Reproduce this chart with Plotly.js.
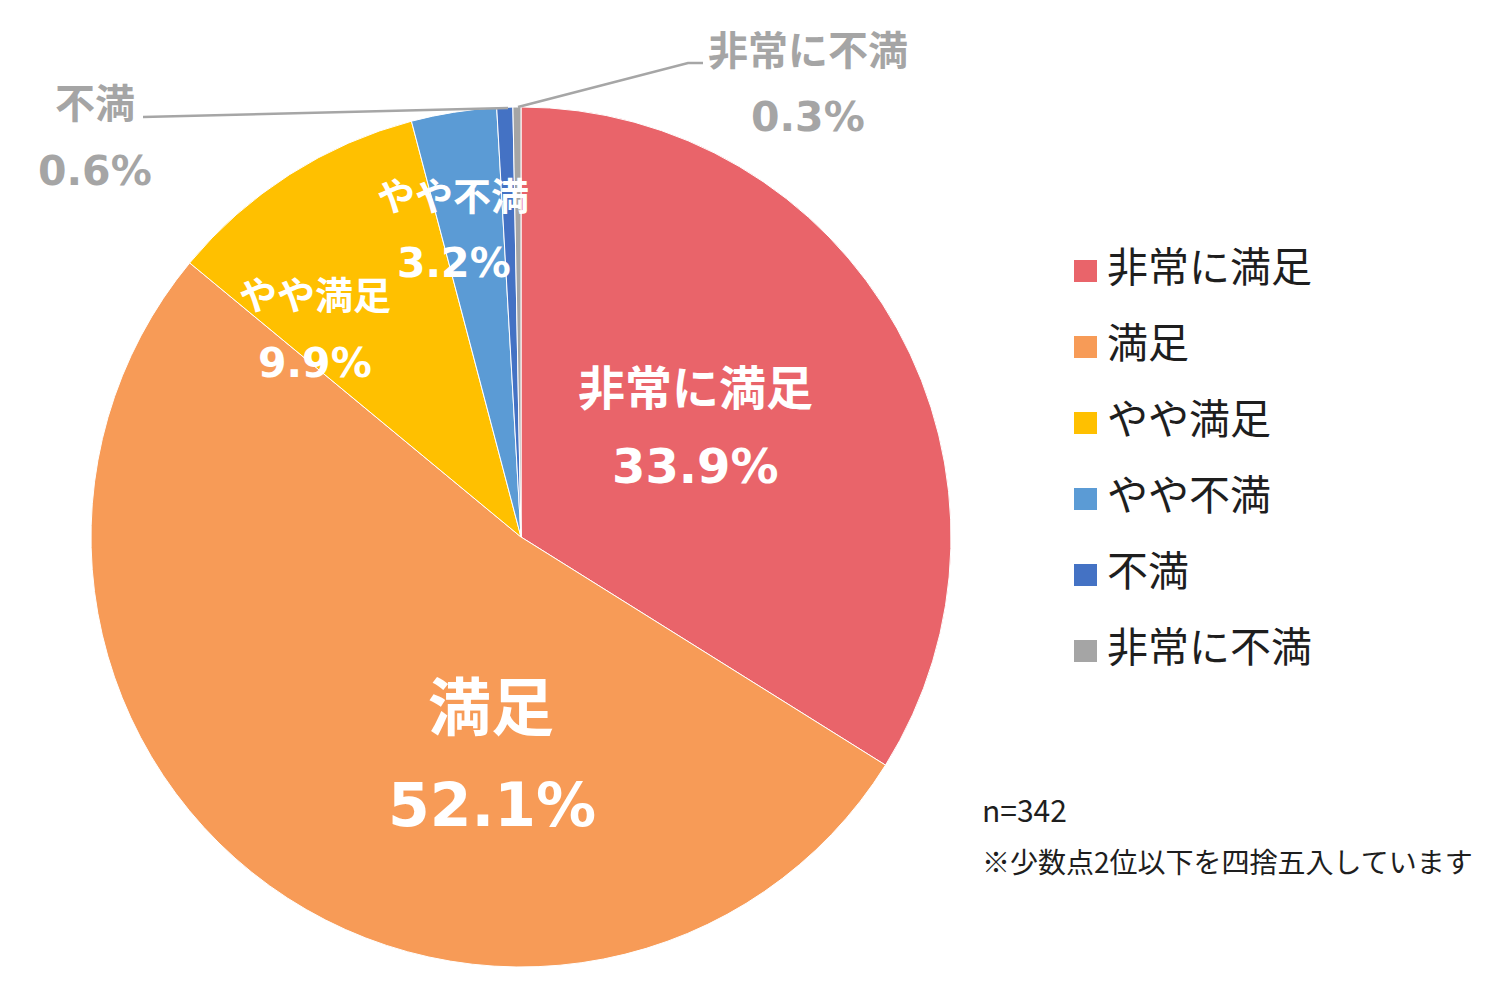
<!DOCTYPE html>
<html>
<head>
<meta charset="utf-8">
<script src="https://cdn.plot.ly/plotly-3.0.1.min.js"></script>
<style>html,body{margin:0;padding:0;background:#fff;}#chart{width:1500px;height:1000px;}</style>
</head>
<body>
<div id="chart"></div>
<script>
// ---- data ----
const categories = ["非常に満足", "満足", "やや満足", "やや不満", "不満", "非常に不満"];
const values = [33.9, 52.1, 9.9, 3.2, 0.6, 0.3];
const sampleNote = "n=342";
const roundingNote = "※少数点2位以下を四捨五入しています";

// ---- styles ----
const colors = ["#E9646A", "#F79B57", "#FFC000", "#5B9BD5", "#4472C4", "#A5A5A5"];
const JP = '"Noto Sans CJK JP", "Noto Sans", sans-serif';
const NUM = '"DejaVu Sans", "Noto Sans CJK JP", sans-serif';
const W = 1500, H = 1000;
const px = x => x / W, py = y => 1 - y / H;

// label placement (pixel centres), name line and value line, per slice
const labelPos = [
  {nx: 695, ny: 384, vx: 695, vy: 466, ns: 47, vs: 48, color: "#FFFFFF"},
  {nx: 491, ny: 702, vx: 492, vy: 805, ns: 63, vs: 60, color: "#FFFFFF"},
  {nx: 315, ny: 292, vx: 315, vy: 363, ns: 38, vs: 41, color: "#FFFFFF"},
  {nx: 453, ny: 193, vx: 454, vy: 263, ns: 38, vs: 41, color: "#FFFFFF"},
  {nx: 95,  ny: 101, vx: 95,  vy: 171, ns: 40, vs: 41, color: "#A5A5A5"},
  {nx: 808, ny: 48,  vx: 808, vy: 117, ns: 40, vs: 41, color: "#A5A5A5"}
];

const annotations = [];
categories.forEach((c, i) => {
  const p = labelPos[i];
  annotations.push({xref: "paper", yref: "paper", x: px(p.nx), y: py(p.ny), xanchor: "center", yanchor: "middle",
    showarrow: false, text: "<b>" + c + "</b>", font: {family: JP, size: p.ns, color: p.color}});
  annotations.push({xref: "paper", yref: "paper", x: px(p.vx), y: py(p.vy), xanchor: "center", yanchor: "middle",
    showarrow: false, text: "<b>" + values[i].toFixed(1) + "%</b>", font: {family: NUM, size: p.vs, color: p.color}});
});

// custom legend
const shapes = [];
categories.forEach((c, i) => {
  const cy = 271 + 76 * i;
  shapes.push({type: "rect", xref: "paper", yref: "paper", x0: px(1074), x1: px(1097), y0: py(cy + 11), y1: py(cy - 11),
    fillcolor: colors[i], line: {width: 0}});
  annotations.push({xref: "paper", yref: "paper", x: px(1105), y: py(cy - 7), xanchor: "left", yanchor: "middle",
    showarrow: false, text: c, font: {family: JP, size: 41, color: "#1E1E1E"}});
});

// leader lines for small outside labels
shapes.push({type: "path", xref: "paper", yref: "paper",
  path: `M ${px(143)} ${py(117)} L ${px(508)} ${py(108)}`, line: {color: "#A6A6A6", width: 2.5}});
shapes.push({type: "path", xref: "paper", yref: "paper",
  path: `M ${px(518)} ${py(107)} L ${px(688)} ${py(63)} L ${px(703)} ${py(63)}`, line: {color: "#A6A6A6", width: 2.5}});

// notes
annotations.push({xref: "paper", yref: "paper", x: px(980), y: py(809), xanchor: "left", yanchor: "middle",
  showarrow: false, text: sampleNote, font: {family: JP, size: 30, color: "#1E1E1E"}});
annotations.push({xref: "paper", yref: "paper", x: px(980), y: py(861), xanchor: "left", yanchor: "middle",
  showarrow: false, text: roundingNote, font: {family: JP, size: 28, color: "#1E1E1E"}});

const trace = {
  type: "pie",
  labels: categories,
  values: values,
  sort: false,
  direction: "clockwise",
  rotation: 0,
  textinfo: "none",
  hoverinfo: "label+percent",
  marker: {colors: colors, line: {color: "#FFFFFF", width: 1}},
  domain: {x: [px(91), px(951)], y: [py(967), py(107)]},
  showlegend: false
};

const layout = {
  width: W, height: H,
  margin: {l: 0, r: 0, t: 0, b: 0},
  paper_bgcolor: "#FFFFFF",
  showlegend: false,
  annotations: annotations,
  shapes: shapes
};

Plotly.newPlot("chart", [trace], layout, {displayModeBar: false, staticPlot: true});
</script>
</body>
</html>
